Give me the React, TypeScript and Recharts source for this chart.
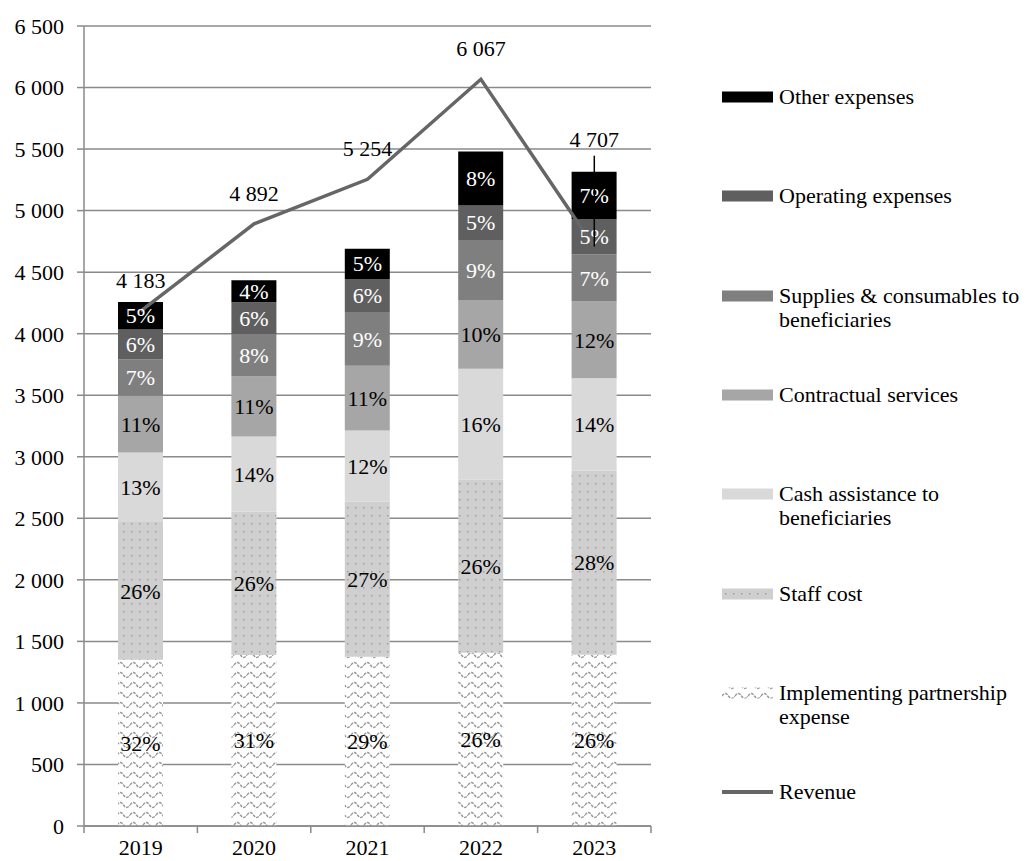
import { ComposedChart, Bar, Line, XAxis, YAxis, CartesianGrid, LabelList } from "recharts"

// expenses by category, stacked bottom to top
const years = ["2019", "2020", "2021", "2022", "2023"]
const implementing = [1350, 1390, 1376, 1407, 1392]
const staffCost = [1120, 1165, 1261, 1407, 1497]
const cashAssistance = [565, 610, 577, 901, 748]
const contractual = [460, 488, 526, 558, 625]
const supplies = [295, 340, 437, 489, 382]
const operating = [245, 262, 268, 279, 288]
const other = [222, 180, 246, 439, 384]
const revenue = [4183, 4892, 5254, 6067, 4707]
const yTicks = [0, 500, 1000, 1500, 2000, 2500, 3000, 3500, 4000, 4500, 5000, 5500, 6000, 6500]

const W = 1027
const H = 861
const margin = { top: 26, right: 376, bottom: 0, left: 0 }
const yAxisW = 84
const plotW = W - margin.right - yAxisW
const band = plotW / years.length
const font = '"Liberation Serif", "Times New Roman", serif'
const gridGray = "#8a8a8a"
const lineGray = "#666666"

type Series = { key: string; name: string; values: number[]; fill: string; text: string }

const stack: Series[] = [
  { key: "implementing", name: "Implementing partnership expense", values: implementing, fill: "waves", text: "#000" },
  { key: "staff", name: "Staff cost", values: staffCost, fill: "dots", text: "#000" },
  { key: "cash", name: "Cash assistance to beneficiaries", values: cashAssistance, fill: "#d9d9d9", text: "#000" },
  { key: "contractual", name: "Contractual services", values: contractual, fill: "#a6a6a6", text: "#000" },
  { key: "supplies", name: "Supplies & consumables to beneficiaries", values: supplies, fill: "#7f7f7f", text: "#fff" },
  { key: "operating", name: "Operating expenses", values: operating, fill: "#5f5f5f", text: "#fff" },
  { key: "other", name: "Other expenses", values: other, fill: "#000000", text: "#fff" },
]

const rows = years.map((year, i) => {
  const row: Record<string, string | number> = { year, revenue: revenue[i] }
  stack.forEach((s) => (row[s.key] = s.values[i]))
  return row
})
const totals = years.map((_, i) => stack.reduce((sum, s) => sum + s.values[i], 0))

const fmt = (n: number) => String(n).replace(/\B(?=(\d{3})+(?!\d))/g, " ")

const patternDefs = (suffix: string) => (
  <defs>
    <pattern id={"dots" + suffix} width="8" height="8" patternUnits="userSpaceOnUse">
      <rect width="8" height="8" fill="#cfcfcf" />
      <rect x="3" y="3" width="1.5" height="1.5" fill="#9e9e9e" />
    </pattern>
    <pattern id={"waves" + suffix} width="13" height="10" patternUnits="userSpaceOnUse">
      <rect width="13" height="10" fill="#ffffff" />
      <path d="M0 5 Q3.25 0 6.5 5 T13 5" fill="none" stroke="#9a9a9a" strokeWidth="1.4" strokeDasharray="3 1" />
    </pattern>
  </defs>
)

const fillOf = (fill: string, suffix: string) => (fill.startsWith("#") ? fill : `url(#${fill}${suffix})`)

const pctLabel = (s: Series) => (props: any) => {
  const { x, y, width, height, index } = props
  const pct = Math.round((s.values[index] / totals[index]) * 100)
  return (
    <text x={x + width / 2} y={y + height / 2} dy="0.35em" textAnchor="middle" fill={s.text} fontSize={22} fontFamily={font}>
      {pct}%
    </text>
  )
}

const revenueLabel = (props: any) => {
  const { x, y, value, index } = props
  if (index === revenue.length - 1) {
    // last label is lifted above the bar with a leader line down to the point
    return (
      <g>
        <line x1={x} x2={x} y1={y - 91} y2={y} stroke="#000" strokeWidth={1.5} />
        <text x={x} y={y - 100} textAnchor="middle" fill="#000" fontSize={22} fontFamily={font}>
          {fmt(value)}
        </text>
      </g>
    )
  }
  return (
    <text x={x} y={y - 23} textAnchor="middle" fill="#000" fontSize={22} fontFamily={font}>
      {fmt(value)}
    </text>
  )
}

const YearTick = (props: any) => {
  const { x, y, payload, index } = props
  return (
    <g>
      <line x1={x - band / 2} x2={x - band / 2} y1={y} y2={y + 7} stroke={gridGray} strokeWidth={1.5} />
      {index === years.length - 1 && (
        <line x1={x + band / 2} x2={x + band / 2} y1={y} y2={y + 7} stroke={gridGray} strokeWidth={1.5} />
      )}
      <text x={x} y={y + 29} textAnchor="middle" fill="#000" fontSize={22} fontFamily={font}>
        {payload.value}
      </text>
    </g>
  )
}

const legendItems = [...stack].reverse()

function Legend() {
  const rowTop = (i: number) => 97 + i * 99.3
  return (
    <div style={{ position: "absolute", left: 0, top: 0, fontFamily: font, fontSize: 22, color: "#000" }}>
      {legendItems.map((s, i) => (
        <div key={s.key} style={{ position: "absolute", left: 722, top: rowTop(i) - 12, width: 305, display: "flex" }}>
          <svg width={51} height={24} style={{ flex: "none" }}>
            {patternDefs("-lg")}
            <rect x={0} y={6.5} width={51} height={11} fill={fillOf(s.fill, "-lg")} />
          </svg>
          <div style={{ marginLeft: 6, width: 250, lineHeight: "24px" }}>{s.name}</div>
        </div>
      ))}
      <div style={{ position: "absolute", left: 722, top: rowTop(7) - 12, width: 305, display: "flex" }}>
        <svg width={51} height={24} style={{ flex: "none" }}>
          <line x1={0} x2={53} y1={12} y2={12} stroke={lineGray} strokeWidth={4} />
        </svg>
        <div style={{ marginLeft: 6, lineHeight: "24px" }}>Revenue</div>
      </div>
    </div>
  )
}

export default function App() {
  return (
    <div style={{ position: "absolute", left: 0, top: 0, width: W, height: H, background: "#fff" }}>
      <ComposedChart width={W} height={H} data={rows} margin={margin}>
        {patternDefs("")}
        <CartesianGrid vertical={false} stroke={gridGray} strokeWidth={1.5} />
        <XAxis
          dataKey="year"
          height={35}
          interval={0}
          tickSize={0}
          tickMargin={0}
          tickLine={false}
          axisLine={{ stroke: gridGray, strokeWidth: 1.5 }}
          tick={<YearTick />}
        />
        <YAxis
          width={yAxisW}
          domain={[0, 6500]}
          ticks={yTicks}
          interval={0}
          tickFormatter={fmt}
          tickSize={7}
          tickMargin={13}
          axisLine={{ stroke: gridGray, strokeWidth: 1.5 }}
          tickLine={{ stroke: gridGray, strokeWidth: 1.5 }}
          tick={{ fill: "#000", fontSize: 22, fontFamily: font }}
        />
        {stack.map((s) => (
          <Bar key={s.key} dataKey={s.key} name={s.name} stackId="exp" fill={fillOf(s.fill, "")} barSize={45} isAnimationActive={false}>
            <LabelList dataKey={s.key} content={pctLabel(s)} />
          </Bar>
        ))}
        <Line
          dataKey="revenue"
          name="Revenue"
          stroke={lineGray}
          strokeWidth={3.5}
          dot={false}
          activeDot={false}
          isAnimationActive={false}
        >
          <LabelList dataKey="revenue" content={revenueLabel} />
        </Line>
      </ComposedChart>
      <Legend />
    </div>
  )
}
